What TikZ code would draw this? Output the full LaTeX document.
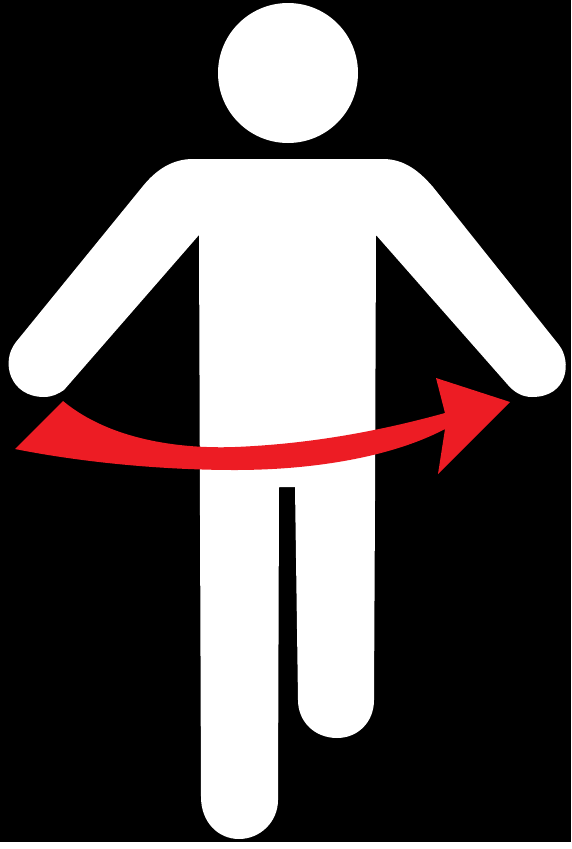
\documentclass[tikz,border=0pt]{standalone}
\usepackage{xcolor}
\definecolor{arrowred}{RGB}{237,28,36}
\usetikzlibrary{calc}

\begin{document}
\begin{tikzpicture}[
    x=1pt, y=-1pt,
    backdrop/.style={fill=black},
    figure/.style={fill=white},
    turnarrow/.style={fill=arrowred}
  ]
    \useasboundingbox (0,0) rectangle (571,849);

    % Background
    \fill[white] (0,0) rectangle (571,849);
    \fill[backdrop] (0,0) rectangle (571,842);

    % Head
    \fill[figure] (288,73) circle[radius=70];

    % Body, arms and standing leg
    \fill[figure] (193,159) -- (383,159)
      .. controls (405,159) and (420,172) .. (433,187)
      -- (559,345)
      .. controls (572,362) and (568,397) .. (532,397)
      .. controls (522,397) and (514,392) .. (508,385)
      -- (376,235)
      -- (375,500) -- (374,700)
      .. controls (374,722) and (358,738) .. (337,738)
      .. controls (315,738) and (298,722) .. (298,700)
      -- (295,487) -- (279,487)
      -- (278,800)
      .. controls (278,822) and (260,839) .. (239,839)
      .. controls (218,839) and (201,822) .. (201,797)
      -- (199,235)
      -- (64,390)
      .. controls (58,394) and (52,397) .. (44,397)
      .. controls (10,397) and (0,362) .. (16,342)
      -- (143,186)
      .. controls (156,170) and (172,159) .. (193,159) -- cycle;

    % Arrow
    \fill[turnarrow] (15,449) -- (63,401)
      .. controls (110,440) and (180,449) .. (235,447)
      .. controls (310,444) and (380,431) .. (445,413)
      -- (436,378) -- (510,402) -- (438,474) -- (445,429)
      .. controls (390,458) and (310,470) .. (235,470)
      .. controls (160,470) and (80,462) .. (15,449) -- cycle;
  \end{tikzpicture}
\end{document}
